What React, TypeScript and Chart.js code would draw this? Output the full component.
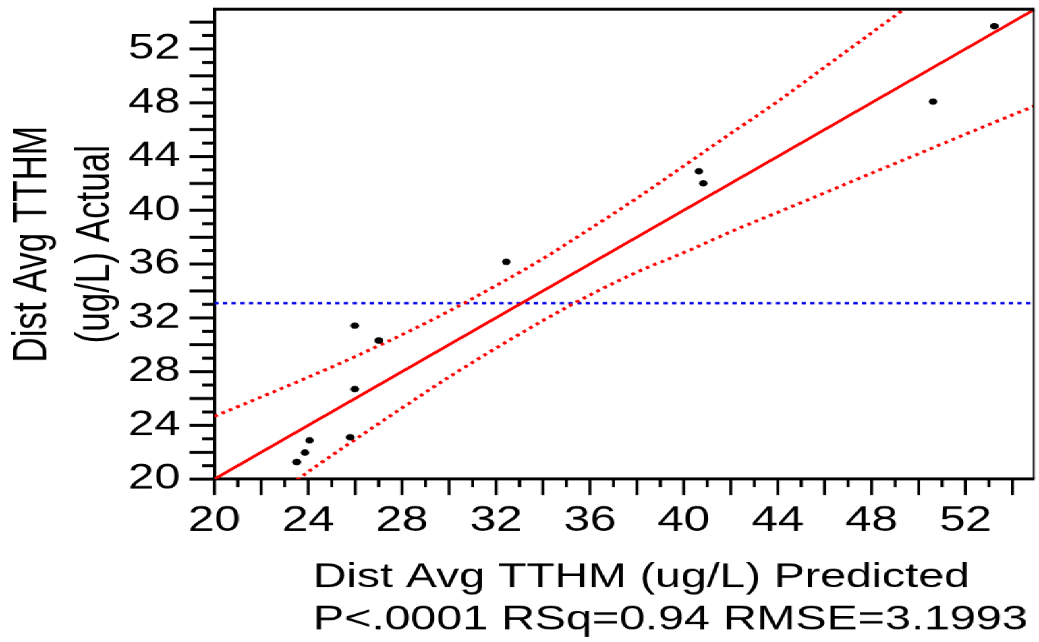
import React, { useEffect, useRef } from 'react';
import { Chart, registerables } from 'chart.js';

Chart.register(...registerables);

// ---- data ----
const predicted = [23.51, 23.86, 24.06, 25.79, 25.98, 25.98, 27.01, 32.44, 40.64, 40.83, 50.62, 53.23];
const actual = [21.28, 21.98, 22.89, 23.12, 26.7, 31.42, 30.31, 36.17, 42.9, 42.01, 48.09, 53.7];

const fitX = [20, 54.9];
const fitY = [20, 54.9];
const meanActual = 33.1;

const upperX = [20, 22, 24, 26, 28, 30, 32, 34, 36, 38, 40, 42, 44, 46, 48, 50];
const upperY = [24.67, 26.12, 27.58, 29.12, 30.75, 32.5, 34.4, 36.4, 38.62, 40.9, 43.3, 45.72, 48.1, 50.65, 53.2, 55.75];
const lowerX = [22, 24, 26, 28, 30, 32, 34, 36, 38, 40, 42, 44, 46, 48, 50, 52, 54, 55];
const lowerY = [18.0, 20.55, 22.95, 25.3, 27.6, 29.75, 31.8, 33.7, 35.4, 36.85, 38.4, 39.85, 41.3, 42.76, 44.21, 45.66, 47.09, 47.81];

const axisMin = 20;
const xMax = 54.9;
const yMax = 54.95;
const labelStep = 4;

const xTitle = 'Dist Avg TTHM (ug/L) Predicted';
const yTitle = ['Dist Avg TTHM', '(ug/L) Actual'];
const statsLine = 'P<.0001 RSq=0.94 RMSE=3.1993';

// ---- layout (logical canvas, stretched horizontally like the reference) ----
const W = 770;
const H = 642;
const S = 1039 / W;
const FONT = "'Liberation Sans', Arial, sans-serif";

const isInt = (v: number) => Math.abs(v - Math.round(v)) < 1e-6;

const decor = {
  id: 'decor',
  afterDraw(chart: any) {
    const { ctx, chartArea: a, scales } = chart;
    ctx.save();
    ctx.strokeStyle = '#000';
    // top and right frame
    ctx.lineWidth = 3;
    ctx.beginPath();
    ctx.moveTo(a.left - 1, a.top);
    ctx.lineTo(a.right + 0.6, a.top);
    ctx.stroke();
    ctx.lineWidth = 1.3;
    ctx.beginPath();
    ctx.moveTo(a.right, a.top);
    ctx.lineTo(a.right, a.bottom);
    ctx.stroke();
    // x tick marks
    ctx.lineWidth = 2.2;
    for (const t of scales.x.ticks) {
      if (!isInt(t.value)) continue;
      const v = Math.round(t.value);
      const px = scales.x.getPixelForValue(v);
      const len = v % 2 === 0 ? 16 : 8;
      ctx.beginPath();
      ctx.moveTo(px, a.bottom);
      ctx.lineTo(px, a.bottom + len);
      ctx.stroke();
    }
    // y tick marks
    ctx.lineWidth = 3;
    for (const t of scales.y.ticks) {
      if (!isInt(t.value)) continue;
      const v = Math.round(t.value);
      const py = scales.y.getPixelForValue(v);
      const len = v % 2 === 0 ? 18.5 : 9;
      ctx.beginPath();
      ctx.moveTo(a.left, py);
      ctx.lineTo(a.left - len, py);
      ctx.stroke();
    }
    // bottom titles
    ctx.fillStyle = '#000';
    ctx.textAlign = 'left';
    ctx.textBaseline = 'alphabetic';
    ctx.font = `34.4px ${FONT}`;
    ctx.fillText(xTitle, 232, 587);
    ctx.font = `34.6px ${FONT}`;
    ctx.fillText(statsLine, 232, 629);
    ctx.restore();
  },
};

export default function App() {
  const ref = useRef<HTMLCanvasElement>(null);

  useEffect(() => {
    const canvas = ref.current!;
    const tickFont = { family: FONT, size: 35 };

    const chart = new Chart(canvas, {
      type: 'scatter',
      data: {
        datasets: [
          {
            data: predicted.map((x, i) => ({ x, y: actual[i] })),
            pointStyle: 'circle',
            pointRadius: 3.2,
            pointBorderWidth: 0,
            backgroundColor: '#000',
            borderColor: '#000',
            showLine: false,
          },
          {
            data: fitX.map((x, i) => ({ x, y: fitY[i] })),
            showLine: true,
            borderColor: '#ff0000',
            borderWidth: 2.6,
            pointRadius: 0,
          },
          {
            data: upperX.map((x, i) => ({ x, y: upperY[i] })),
            showLine: true,
            borderColor: '#ff0000',
            borderWidth: 2.9,
            borderDash: [2.8, 3.4],
            cubicInterpolationMode: 'monotone',
            pointRadius: 0,
          },
          {
            data: lowerX.map((x, i) => ({ x, y: lowerY[i] })),
            showLine: true,
            borderColor: '#ff0000',
            borderWidth: 2.9,
            borderDash: [2.8, 3.4],
            cubicInterpolationMode: 'monotone',
            pointRadius: 0,
          },
          {
            data: [
              { x: axisMin, y: meanActual },
              { x: xMax, y: meanActual },
            ],
            showLine: true,
            borderColor: '#0000ee',
            borderWidth: 2.4,
            borderDash: [3.2, 3.2],
            pointRadius: 0,
          },
        ],
      } as any,
      options: {
        animation: false,
        responsive: false,
        devicePixelRatio: S,
        events: [],
        layout: { padding: { left: 0, right: W - 768.7, top: 9.3, bottom: 0 } },
        plugins: {
          legend: { display: false },
          tooltip: { enabled: false },
        },
        scales: {
          x: {
            type: 'linear',
            min: axisMin,
            max: xMax,
            afterFit: (s: any) => {
              s.height = H - 479;
              s.paddingLeft = 0;
              s.paddingRight = 0;
            },
            grid: { display: false, drawTicks: false },
            border: { display: true, width: 3, color: '#000' },
            ticks: {
              stepSize: 1,
              autoSkip: false,
              includeBounds: false,
              maxRotation: 0,
              minRotation: 0,
              padding: 21,
              color: '#000',
              font: tickFont,
              callback: (v: any) => (isInt(v) && Math.round(v) % labelStep === 0 ? String(Math.round(v)) : ''),
            },
          },
          y: {
            type: 'linear',
            min: axisMin,
            max: yMax,
            afterFit: (s: any) => {
              s.width = 158.8;
              s.paddingTop = 0;
              s.paddingBottom = 0;
            },
            grid: { display: false, drawTicks: false },
            border: { display: true, width: 2.2, color: '#000' },
            ticks: {
              stepSize: 1,
              autoSkip: false,
              includeBounds: false,
              padding: 25,
              color: '#000',
              font: tickFont,
              callback: (v: any) => (isInt(v) && Math.round(v) % labelStep === 0 ? String(Math.round(v)) : ''),
            },
            title: {
              display: true,
              text: yTitle,
              color: '#000',
              font: { family: FONT, size: 35, lineHeight: 1.33 },
              padding: { top: 1, bottom: 0 },
            },
          },
        },
      } as any,
      plugins: [decor],
    });

    return () => chart.destroy();
  }, []);

  return (
    <div
      style={{
        position: 'fixed',
        left: 0,
        top: 0,
        width: W,
        height: H,
        transform: `scaleX(${S})`,
        transformOrigin: '0 0',
        background: '#fff',
      }}
    >
      <canvas ref={ref} width={W} height={H} />
    </div>
  );
}
